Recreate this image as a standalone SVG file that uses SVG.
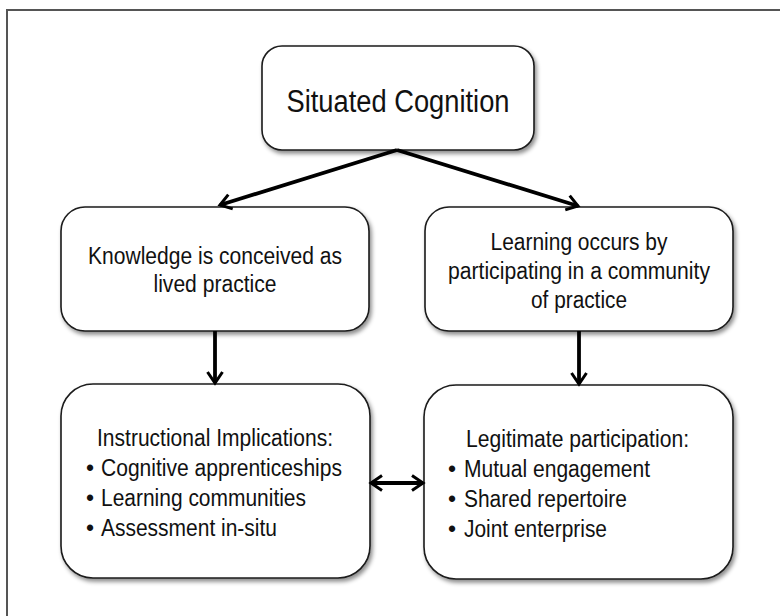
<svg xmlns="http://www.w3.org/2000/svg" width="780" height="616" viewBox="0 0 780 616">
<style>
.box{fill:#fff;stroke:#1a1a1a;stroke-width:1.6;filter:url(#sh)}
.t{font-family:"Liberation Sans Narrow","Arial Narrow","Liberation Sans",Arial,sans-serif;fill:#111;font-size:23px}
.c{text-anchor:middle}
.con{stroke:#000;stroke-width:3.8;fill:none}
</style>
<defs>
<filter id="sh" x="-10%" y="-10%" width="130%" height="130%">
<feDropShadow dx="2" dy="3" stdDeviation="2" flood-color="#000" flood-opacity="0.45"/>
</filter>
<marker id="ah" viewBox="0 0 16 18" refX="13" refY="9" markerWidth="16" markerHeight="18" markerUnits="userSpaceOnUse" orient="auto-start-reverse">
<path d="M2,1.5 L13,9 L2,16.5" fill="none" stroke="#000" stroke-width="3"/>
</marker>
</defs>
<rect width="780" height="616" fill="#fff"/>
<path d="M7,620 V10 H784" fill="none" stroke="#555" stroke-width="2"/>

<g id="n-top">
<rect class="box" x="262" y="46" width="272" height="104" rx="20"/>
<text class="t c" x="398" y="112" style="font-size:31px" textLength="223" lengthAdjust="spacingAndGlyphs">Situated Cognition</text>
</g>
<g id="n-knowledge">
<rect class="box" x="61" y="207" width="308" height="124" rx="24"/>
<text class="t c" x="215" y="264" textLength="254" lengthAdjust="spacingAndGlyphs">Knowledge is conceived as</text>
<text class="t c" x="215" y="292" textLength="123" lengthAdjust="spacingAndGlyphs">lived practice</text>
</g>
<g id="n-learning">
<rect class="box" x="425" y="207" width="308" height="124" rx="24"/>
<text class="t c" x="579" y="250" textLength="177" lengthAdjust="spacingAndGlyphs">Learning occurs by</text>
<text class="t c" x="579" y="279" textLength="262" lengthAdjust="spacingAndGlyphs">participating in a community</text>
<text class="t c" x="579" y="308" textLength="96" lengthAdjust="spacingAndGlyphs">of practice</text>
</g>
<g id="n-instructional">
<rect class="box" x="61" y="384" width="309" height="194" rx="32"/>
<text class="t" x="97" y="446" textLength="236" lengthAdjust="spacingAndGlyphs">Instructional Implications:</text>
<text class="t" x="86" y="476">•</text>
<text class="t" x="101" y="476" textLength="241" lengthAdjust="spacingAndGlyphs">Cognitive apprenticeships</text>
<text class="t" x="86" y="506">•</text>
<text class="t" x="101" y="506" textLength="205" lengthAdjust="spacingAndGlyphs">Learning communities</text>
<text class="t" x="86" y="536">•</text>
<text class="t" x="101" y="536" textLength="176" lengthAdjust="spacingAndGlyphs">Assessment in-situ</text>
</g>
<g id="n-legitimate">
<rect class="box" x="424" y="385" width="309" height="194" rx="32"/>
<text class="t" x="466" y="447" textLength="223" lengthAdjust="spacingAndGlyphs">Legitimate participation:</text>
<text class="t" x="448" y="477">•</text>
<text class="t" x="464" y="477" textLength="186" lengthAdjust="spacingAndGlyphs">Mutual engagement</text>
<text class="t" x="448" y="507">•</text>
<text class="t" x="464" y="507" textLength="163" lengthAdjust="spacingAndGlyphs">Shared repertoire</text>
<text class="t" x="448" y="537">•</text>
<text class="t" x="464" y="537" textLength="143" lengthAdjust="spacingAndGlyphs">Joint enterprise</text>
</g>

<g id="connectors">
<line class="con" x1="397" y1="150" x2="220" y2="205" marker-end="url(#ah)"/>
<line class="con" x1="397" y1="150" x2="578" y2="206" marker-end="url(#ah)"/>
<line class="con" x1="215" y1="331" x2="215" y2="383" marker-end="url(#ah)"/>
<line class="con" x1="579" y1="331" x2="579" y2="384" marker-end="url(#ah)"/>
<line class="con" x1="371" y1="483" x2="423" y2="483" marker-start="url(#ah)" marker-end="url(#ah)"/>
</g>
</svg>
